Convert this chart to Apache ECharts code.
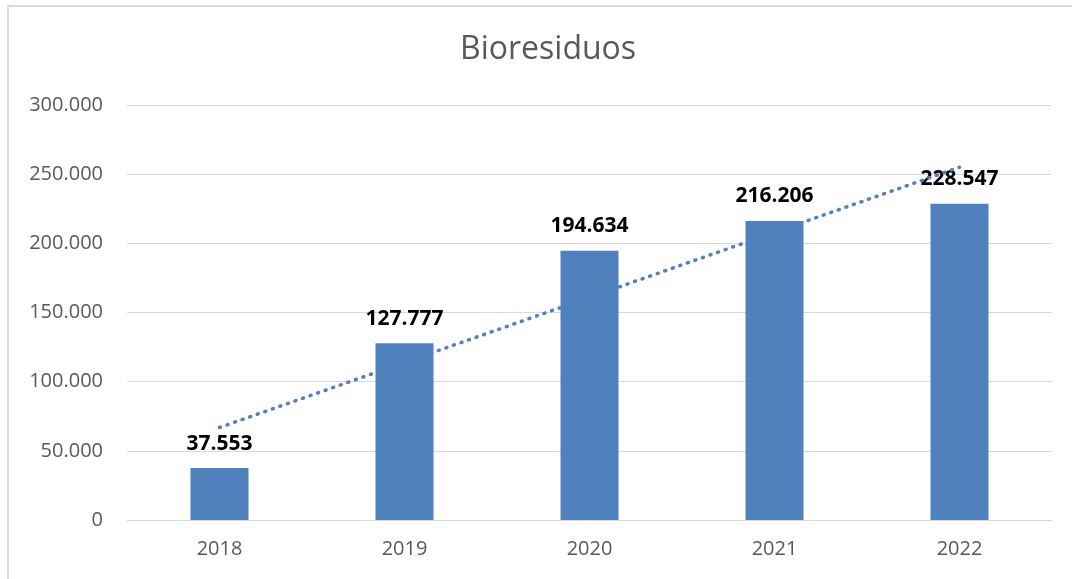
<!DOCTYPE html>
<html>
<head>
<meta charset="utf-8">
<script src="https://cdn.jsdelivr.net/npm/echarts@6/dist/echarts.min.js"></script>
<style>
	html, body { margin: 0; padding: 0; background: #fff; }
	#frame { position: absolute; left: 7px; top: 5px; width: 1065px; height: 574px; border-top: 2px solid #d9d9d9; border-left: 2px solid #d9d9d9; }
	#chart { position: absolute; left: 0; top: 0; width: 1072px; height: 579px; }
</style>
</head>
<body>
<div id="frame"></div>
<div id="chart"></div>
<script>
	// datos
	var years = [ '2018', '2019', '2020', '2021', '2022' ];
	var toneladas = [ 37553, 127777, 194634, 216206, 228547 ];
	// extremos de la linea de tendencia
	var trendStart = 66860;
	var trendEnd = 255030;
	var yTicks = [ 0, 50000, 100000, 150000, 200000, 250000, 300000 ];

	// formato con punto de miles
	function fmt(n) {
		return String(Math.round(n)).replace(/\B(?=(\d{3})+(?!\d))/g, '.');
	}

	var mychart = echarts.init(document.getElementById('chart'));
	var option = {
		animation : false,
		title : {
			text : 'Bioresiduos',
			left : 455,
			top : 29,
			textStyle : {
				color : '#595959',
				fontSize : 32,
				fontWeight : 'normal',
				fontFamily : 'Open Sans'
			}
		},
		grid : {
			left : 127,
			right : 20,
			top : 105,
			bottom : 59
		},
		xAxis : {
			type : 'category',
			data : years,
			axisLine : {
				lineStyle : { color : '#d9d9d9', width : 1 }
			},
			axisTick : { show : false },
			axisLabel : {
				color : '#595959',
				fontSize : 20,
				fontFamily : 'Open Sans',
				margin : 19
			}
		},
		yAxis : {
			type : 'value',
			min : yTicks[0],
			max : yTicks[yTicks.length - 1],
			interval : 50000,
			axisLine : { show : false },
			axisTick : { show : false },
			splitLine : {
				lineStyle : { color : '#d9d9d9', width : 1 }
			},
			axisLabel : {
				color : '#595959',
				fontSize : 20,
				fontFamily : 'Open Sans',
				margin : 24,
				formatter : function(v) {
					return fmt(v);
				}
			}
		},
		series : [ {
			name : 'Bioresiduos',
			type : 'bar',
			data : toneladas,
			barWidth : 58,
			itemStyle : {
				color : '#4f81bd'
			},
			label : {
				show : true,
				position : 'top',
				distance : 14,
				color : '#000',
				fontSize : 21,
				fontWeight : 'bold',
				fontFamily : 'Open Sans',
				formatter : function(p) {
					return fmt(p.value);
				}
			},
			markLine : {
				silent : true,
				symbol : [ 'none', 'none' ],
				label : { show : false },
				lineStyle : {
					color : '#4f81bd',
					type : [ 1, 7 ],
					width : 3.5,
					cap : 'round'
				},
				data : [ [ {
					coord : [ years[0], trendStart ]
				}, {
					coord : [ years[years.length - 1], trendEnd ]
				} ] ]
			}
		} ]
	};
	mychart.setOption(option);
</script>
</body>
</html>
